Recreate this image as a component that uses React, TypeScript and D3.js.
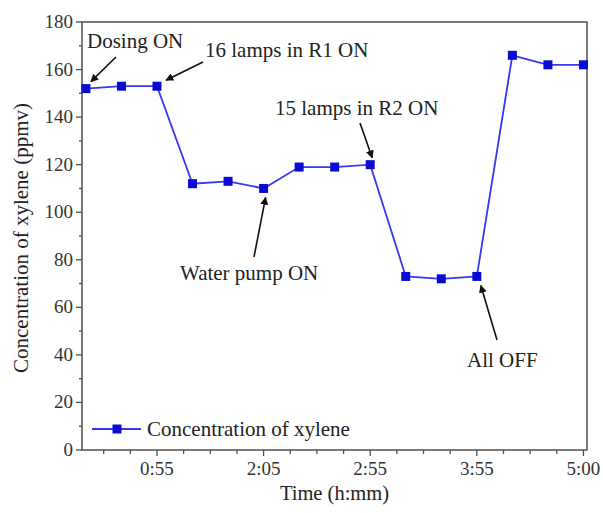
import React, { useEffect, useRef } from "react";
import * as d3 from "d3";

// time labels for the major ticks (index based x axis)
const tickIndex = [2, 5, 8, 11, 14];
const tickLabels = ["0:55", "2:05", "2:55", "3:55", "5:00"];
// xylene concentration, ppmv
const xylene = [152, 153, 153, 112, 113, 110, 119, 119, 120, 73, 72, 73, 166, 162, 162];
const yTicks = [0, 20, 40, 60, 80, 100, 120, 140, 160, 180];

// annotations: point index, text, text position, arrow tail
const notes = [
  { i: 0, text: "Dosing ON", tx: 87, ty: 48, from: [116, 57], dx: 5, dy: -7 },
  { i: 2, text: "16 lamps in R1 ON", tx: 205, ty: 57, from: [203, 62], dx: 9, dy: -6 },
  { i: 8, text: "15 lamps in R2 ON", tx: 275, ty: 115, from: [360, 123], dx: 2, dy: -7 },
  { i: 5, text: "Water pump ON", tx: 180, ty: 280, from: [254, 257], dx: 2, dy: 9 },
  { i: 11, text: "All OFF", tx: 467, ty: 367, from: [497, 340], dx: 4, dy: 9 },
];

const W = 603, H = 513;
const margin = { left: 82, top: 22, right: 16, bottom: 63 };

export default function App() {
  const ref = useRef<SVGSVGElement>(null);

  useEffect(() => {
    const svg = d3.select(ref.current);
    svg.selectAll("*").remove();
    const font = "'Liberation Serif', 'Times New Roman', serif";
    const axisColor = "#505050";

    const x = d3.scaleLinear().domain([-0.11, 14.1]).range([margin.left, W - margin.right]);
    const y = d3.scaleLinear().domain([0, 180]).range([H - margin.bottom, margin.top]);
    const x0 = x.range()[0], x1 = x.range()[1], y0 = y.range()[0], y1 = y.range()[1];

    svg.append("defs").append("marker")
      .attr("id", "arrow")
      .attr("viewBox", "0 0 10 10")
      .attr("refX", 9).attr("refY", 5)
      .attr("markerWidth", 8).attr("markerHeight", 8)
      .attr("markerUnits", "userSpaceOnUse")
      .attr("orient", "auto")
      .append("path").attr("d", "M0,0 L10,5 L0,10 z").attr("fill", "#111");

    // frame
    svg.append("rect")
      .attr("x", x0).attr("y", y1)
      .attr("width", x1 - x0).attr("height", y0 - y1)
      .attr("fill", "none").attr("stroke", axisColor).attr("stroke-width", 1.5);

    // y ticks
    const yMinor = d3.range(10, 180, 20);
    svg.selectAll(".ymaj").data(yTicks).enter().append("line")
      .attr("x1", x0 - 6).attr("x2", x0)
      .attr("y1", d => y(d)).attr("y2", d => y(d))
      .attr("stroke", axisColor).attr("stroke-width", 1.3);
    svg.selectAll(".ymin").data(yMinor).enter().append("line")
      .attr("x1", x0 - 3).attr("x2", x0)
      .attr("y1", d => y(d)).attr("y2", d => y(d))
      .attr("stroke", axisColor).attr("stroke-width", 1.3);
    svg.selectAll(".ylab").data(yTicks).enter().append("text")
      .attr("x", x0 - 9).attr("y", d => y(d) + 6)
      .attr("text-anchor", "end")
      .style("font-family", font).style("font-size", "19px").attr("fill", "#333")
      .text(d => d);

    // x ticks
    const xMinor = d3.range(0.5, 14, 0.75).filter(v => !tickIndex.includes(v));
    svg.selectAll(".xmaj").data(tickIndex).enter().append("line")
      .attr("x1", d => x(d)).attr("x2", d => x(d))
      .attr("y1", y0).attr("y2", y0 + 6)
      .attr("stroke", axisColor).attr("stroke-width", 1.3);
    svg.selectAll(".xmin").data(xMinor).enter().append("line")
      .attr("x1", d => x(d)).attr("x2", d => x(d))
      .attr("y1", y0).attr("y2", y0 + 4)
      .attr("stroke", axisColor).attr("stroke-width", 1.3);
    svg.selectAll(".xlab").data(tickIndex).enter().append("text")
      .attr("x", d => x(d)).attr("y", y0 + 25)
      .attr("text-anchor", "middle")
      .style("font-family", font).style("font-size", "19px").attr("fill", "#333")
      .text((d, i) => tickLabels[i]);

    // axis titles
    svg.append("text")
      .attr("x", (x0 + x1) / 2).attr("y", H - 13)
      .attr("text-anchor", "middle")
      .style("font-family", font).style("font-size", "20.5px").attr("fill", "#222")
      .text("Time (h:mm)");
    svg.append("text")
      .attr("transform", `translate(28,${(y0 + y1) / 2 + 2}) rotate(-90)`)
      .attr("text-anchor", "middle")
      .style("font-family", font).style("font-size", "21px").attr("fill", "#222")
      .text("Concentration of xylene (ppmv)");

    // series
    const line = d3.line<number>().x((d, i) => x(i)).y(d => y(d));
    svg.append("path").datum(xylene)
      .attr("d", line)
      .attr("fill", "none").attr("stroke", "#3838f0").attr("stroke-width", 1.8);
    svg.selectAll(".pt").data(xylene).enter().append("rect")
      .attr("x", (d, i) => x(i) - 4.5).attr("y", d => y(d) - 4.5)
      .attr("width", 9).attr("height", 9)
      .attr("fill", "#0a0ad0");

    // annotations
    notes.forEach(n => {
      svg.append("line")
        .attr("x1", n.from[0]).attr("y1", n.from[1])
        .attr("x2", x(n.i) + n.dx).attr("y2", y(xylene[n.i]) + n.dy)
        .attr("stroke", "#111").attr("stroke-width", 1.6)
        .attr("marker-end", "url(#arrow)");
      svg.append("text")
        .attr("x", n.tx).attr("y", n.ty)
        .style("font-family", font).style("font-size", "21px").attr("fill", "#222")
        .text(n.text);
    });

    // legend
    const ly = 429;
    svg.append("line").attr("x1", 92).attr("x2", 141).attr("y1", ly).attr("y2", ly)
      .attr("stroke", "#3838f0").attr("stroke-width", 1.8);
    svg.append("rect").attr("x", 112.5).attr("y", ly - 4.5).attr("width", 9).attr("height", 9)
      .attr("fill", "#0a0ad0");
    svg.append("text").attr("x", 147).attr("y", ly + 7)
      .style("font-family", font).style("font-size", "21px").attr("fill", "#222")
      .text("Concentration of xylene");
  }, []);

  return (
    <svg ref={ref} width={W} height={H}
      style={{ position: "absolute", left: 0, top: 0, background: "#fff" }} />
  );
}
